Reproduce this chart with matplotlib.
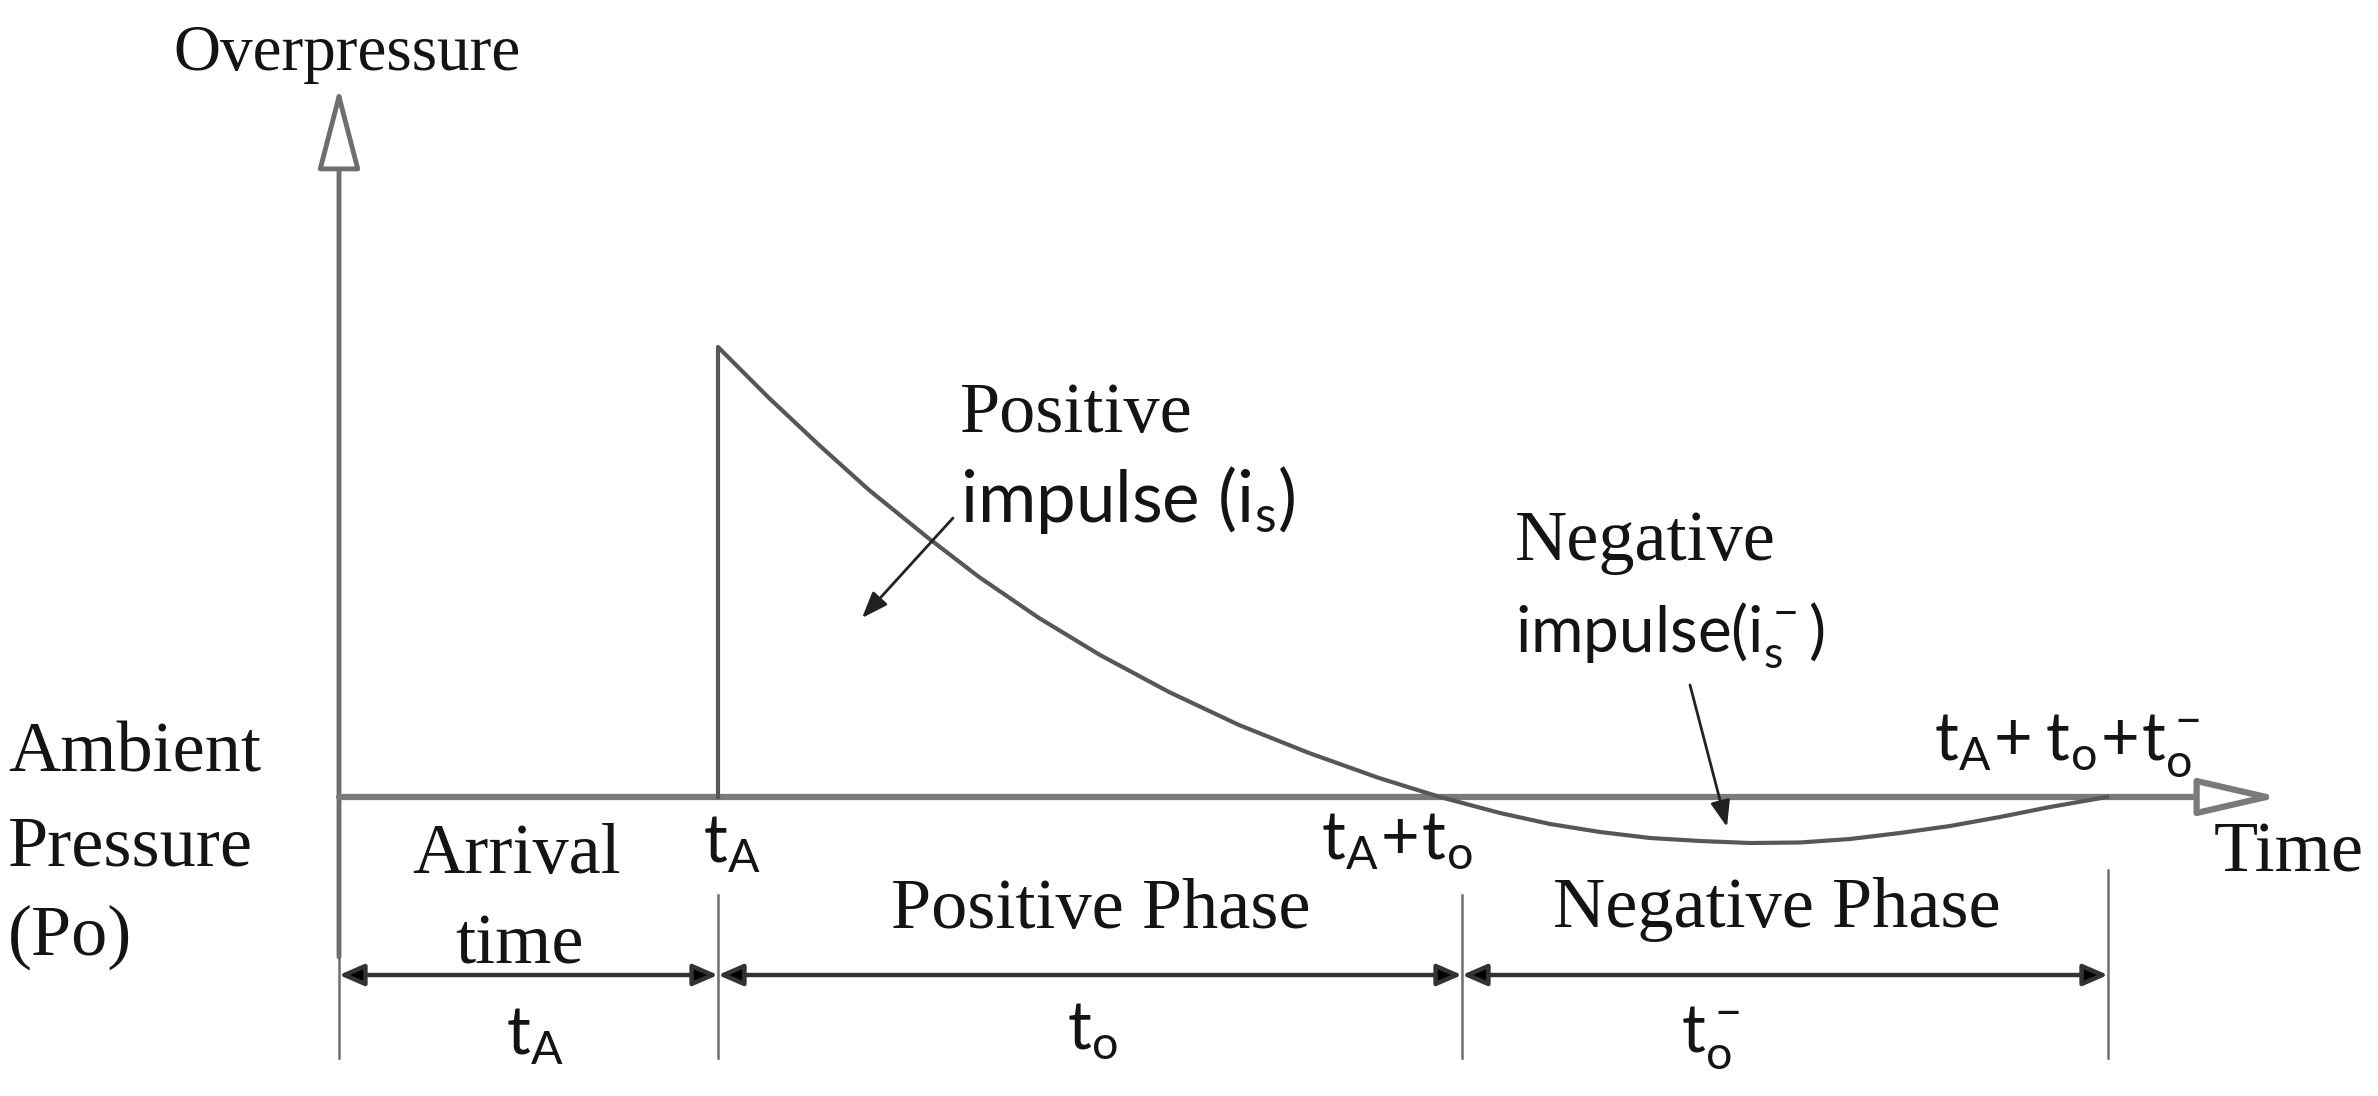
import matplotlib
matplotlib.use('Agg')
import matplotlib.pyplot as plt

plt.rcParams['mathtext.fontset'] = 'custom'
plt.rcParams['mathtext.rm'] = 'Lato'

serif = 'Liberation Serif'
sans = 'Lato'
grey = '#6e6e6e'
curve_grey = '#575757'
ink = '#141414'

# blast wave (time and pressure in arbitrary units)
time = [3.79, 3.79, 4.3, 4.8, 5.3, 5.88, 6.4, 7.0, 7.61, 8.3, 9.0, 9.7,
        10.4, 11.01, 11.61, 12.11, 12.61, 13.11, 13.61, 14.11, 14.61,
        15.11, 15.61, 16.11, 16.61, 17.11, 17.68]
pressure = [0.0, 4.50, 3.99, 3.52, 3.07, 2.60, 2.20, 1.79, 1.42, 1.05, 0.72,
            0.44, 0.19, 0.0, -0.16, -0.27, -0.35, -0.41, -0.44, -0.46,
            -0.455, -0.42, -0.36, -0.29, -0.20, -0.10, 0.0]

# boundaries of the phases along the time axis
phase_edges = [0.0, 3.79, 11.23, 17.69]
ext_top = [-1.6, -0.98, -0.98, -0.73]
ext_bottom = -2.61
dim_level = -1.78

fig = plt.figure(figsize=(23.78, 10.96), dpi=100)
ax = fig.add_axes([0, 0, 1, 1])
ax.set_xlim(-3.39, 20.39)
ax.set_ylim(-2.99, 7.97)
ax.axis('off')

# axes with hollow arrow heads
ax.annotate('', xy=(0, 7.10), xytext=(0, ext_top[0]),
            arrowprops=dict(arrowstyle='-|>,head_length=52,head_width=13.5',
                            mutation_scale=1, lw=3.5, ec=grey, fc='white',
                            shrinkA=0, shrinkB=0))
ax.annotate('', xy=(19.41, 0), xytext=(0, 0),
            arrowprops=dict(arrowstyle='-|>,head_length=50,head_width=11.5',
                            mutation_scale=1, lw=4.5, ec='#7a7a7a', fc='white',
                            shrinkA=0, shrinkB=0))

# pressure history
ax.plot(time, pressure, color=curve_grey, lw=3, solid_joinstyle='round', zorder=3)

# extension lines and dimension arrows
for x, top in zip(phase_edges, ext_top):
    ax.plot([x, x], [top, ext_bottom], color=grey, lw=1.8)
for a, b in zip(phase_edges[:-1], phase_edges[1:]):
    ax.annotate('', xy=(b, dim_level), xytext=(a, dim_level),
                arrowprops=dict(arrowstyle='<|-|>,head_length=15,head_width=6.5',
                                mutation_scale=1, lw=3.2, color='#333333',
                                fc='black', shrinkA=0, shrinkB=0))

# impulse pointers
ax.annotate('', xy=(5.23, 1.79), xytext=(6.14, 2.79),
            arrowprops=dict(arrowstyle='-|>,head_length=16,head_width=6',
                            mutation_scale=1, lw=2, color='#222222',
                            shrinkA=0, shrinkB=0))
ax.annotate('', xy=(13.88, -0.30), xytext=(13.51, 1.12),
            arrowprops=dict(arrowstyle='-|>,head_length=16,head_width=6',
                            mutation_scale=1, lw=2, color='#222222',
                            shrinkA=0, shrinkB=0))


def serif_text(x, y, s, ha='center', size=52):
    ax.text(x, y, s, ha=ha, va='baseline', fontsize=size, family=serif,
            color=ink)


def sans_text(x, y, s, ha='center', size=48):
    ax.text(x, y, s, ha=ha, va='baseline', fontsize=size, family=sans,
            color=ink)


serif_text(0.08, 7.27, 'Overpressure', size=47)
serif_text(-3.31, 0.25, 'Ambient', ha='left')
serif_text(-3.31, -0.68, 'Pressure', ha='left')
serif_text(-3.31, -1.58, '(Po)', ha='left')
serif_text(1.78, -0.76, 'Arrival')
serif_text(1.81, -1.66, 'time')
serif_text(7.62, -1.31, 'Positive Phase')
serif_text(14.38, -1.30, 'Negative Phase')
serif_text(19.5, -0.75, 'Time')
serif_text(6.21, 3.65, 'Positive', ha='left')
serif_text(11.76, 2.37, 'Negative', ha='left')

sans_text(6.21, 2.75, r'impulse ($\mathregular{i_s}$)', ha='left', size=51)
sans_text(11.76, 1.45, r'impulse($\mathregular{i_s^-}$)', ha='left', size=46)
sans_text(3.93, -0.66, r'$\mathregular{t_A}$')
sans_text(10.58, -0.63, r'$\mathregular{t_A\!+\!t_o}$')
sans_text(17.28, 0.37, r'$\mathregular{t_A\!+t_o\!+\!t_o^-}$')
sans_text(1.96, -2.58, r'$\mathregular{t_A}$')
sans_text(7.53, -2.53, r'$\mathregular{t_o}$')
sans_text(13.72, -2.55, r'$\mathregular{t_o^-}$')

fig.savefig('out.png', dpi=100, facecolor='white')
